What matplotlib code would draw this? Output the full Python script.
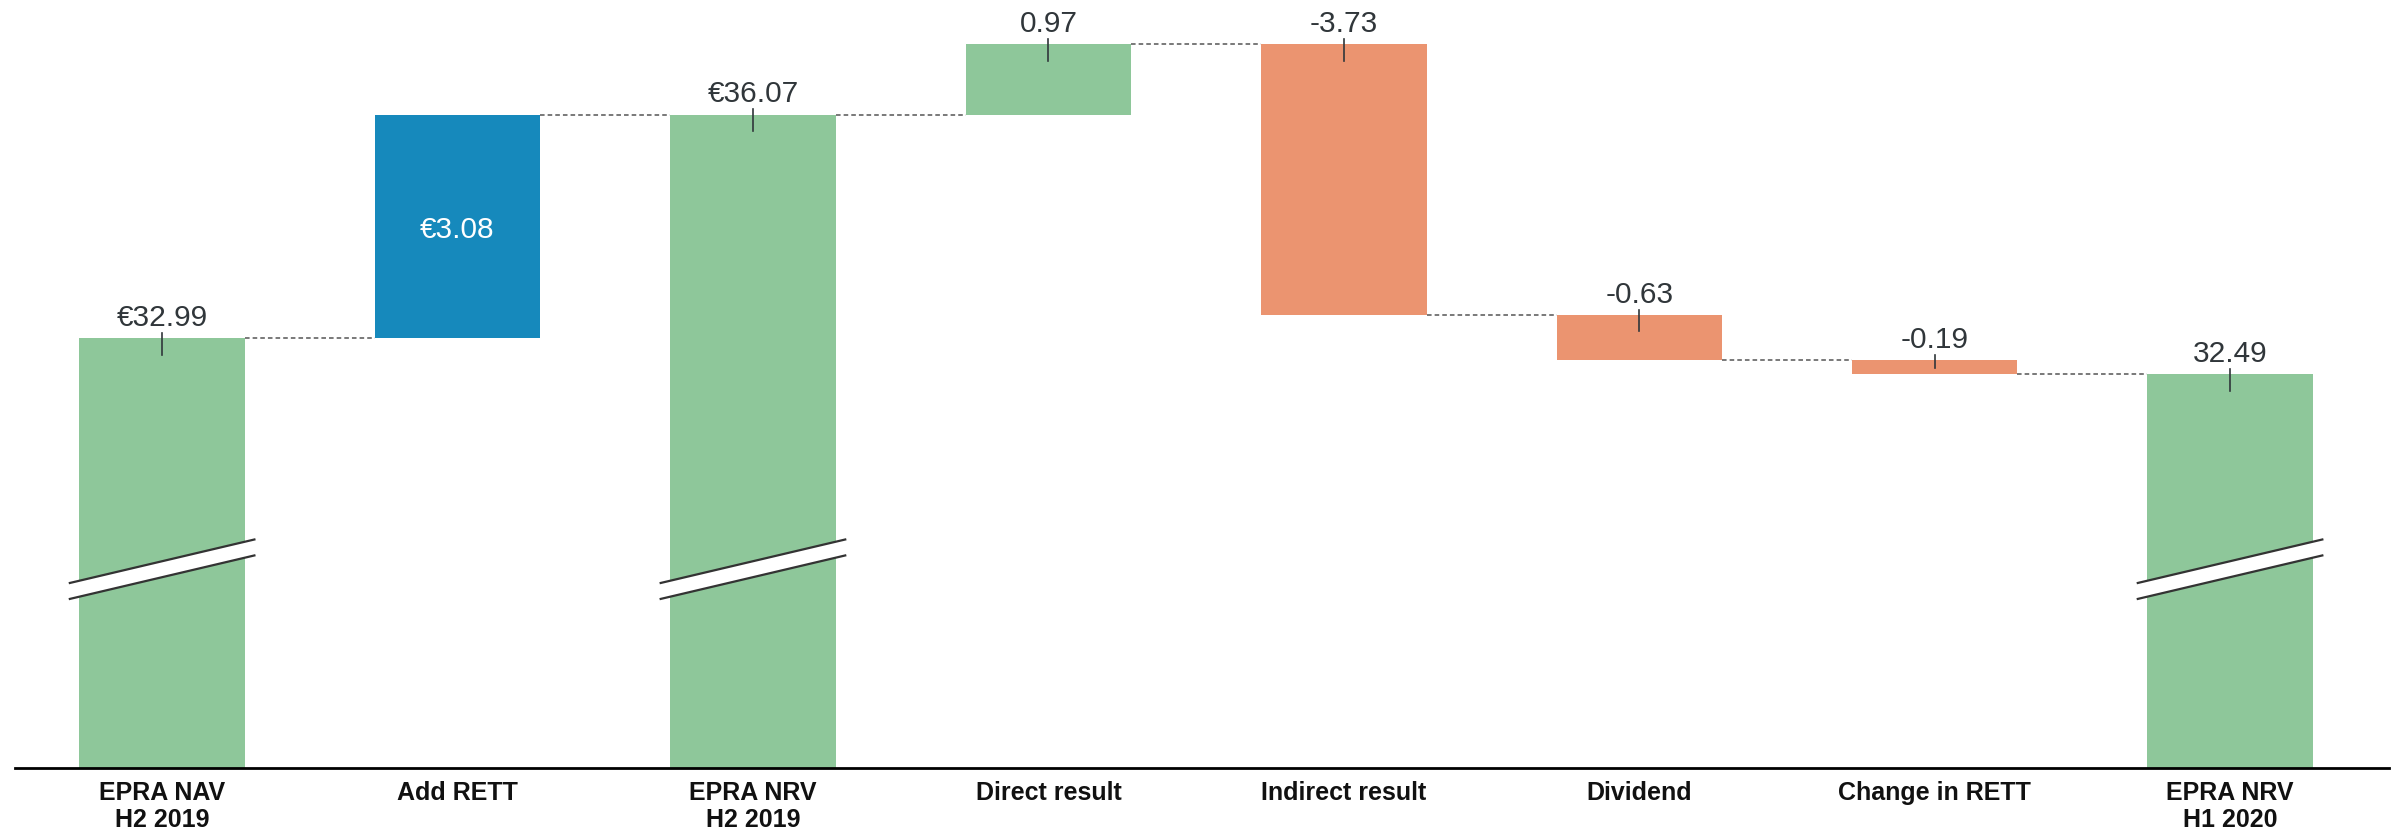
"""
EPRA NRV bridge, H2 2019 to H1 2020 (waterfall with broken value axis)
"""

import matplotlib
matplotlib.use("Agg")
import matplotlib.pyplot as plt
from matplotlib.patches import Polygon

categories = ["EPRA NAV\nH2 2019", "Add RETT", "EPRA NRV\nH2 2019", "Direct result",
              "Indirect result", "Dividend", "Change in RETT", "EPRA NRV\nH1 2020"]
# totals are absolute values, moves are the steps in between
totals = {0: 32.99, 2: 36.07, 7: 32.49}
moves = {1: 3.08, 3: 0.97, 4: -3.73, 5: -0.63, 6: -0.19}
value_labels = ["€32.99", "€3.08", "€36.07", "0.97", "-3.73", "-0.63", "-0.19", "32.49"]

GREEN = "#8EC79A"
ORANGE = "#EB9470"
BLUE = "#1689BC"
TEXT = "#30363A"

fig = plt.figure(figsize=(23.97, 8.32), dpi=100)
ax = fig.add_axes([0.00626, 0.0775, 0.9904, 0.9225])

width = 0.56
level = 0.0
bottoms, tops, levels = [], [], []
for i in range(len(categories)):
    if i in totals:
        lo, hi = 0.0, totals[i]
        color = GREEN
        level = totals[i]
    else:
        d = moves[i]
        lo, hi = sorted([level, level + d])
        if i == 1:
            color = BLUE
        else:
            color = GREEN if d > 0 else ORANGE
        level = level + d
    ax.bar(i, hi - lo, bottom=lo, width=width, color=color, zorder=2)
    bottoms.append(lo)
    tops.append(hi)
    levels.append(level)

# dashed connectors between consecutive bars
for i in range(len(categories) - 1):
    ax.plot([i + width / 2, i + 1 - width / 2], [levels[i], levels[i]],
            color="#555555", lw=1.1, ls=(0, (3, 2)), zorder=1)

# value labels with a small tick at the top edge
for i, lab in enumerate(value_labels):
    top = tops[i]
    if i == 1:
        ax.text(i, (bottoms[i] + tops[i]) / 2 - 0.05, lab, ha="center", va="center",
                color="white", fontsize=21.5, family="Liberation Sans", zorder=4)
        continue
    h = tops[i] - bottoms[i]
    below = min(0.23, 0.55 * h)
    ax.plot([i, i], [top + 0.07, top - below], color=TEXT, lw=1.2, zorder=3)
    ax.text(i, top + 0.085, lab, ha="center", va="bottom", color=TEXT,
            fontsize=21.5, family="Liberation Sans", zorder=4)

# axis break marks on the total bars
brk_y, slope, gap, half = 29.8, 0.96, 0.11, 0.316
for i in totals:
    x0, x1 = i - half, i + half
    y0, y1 = brk_y - half * slope, brk_y + half * slope
    ax.add_patch(Polygon([(x0, y0 - gap), (x1, y1 - gap), (x1, y1 + gap), (x0, y0 + gap)],
                         closed=True, facecolor="white", edgecolor="none", zorder=3))
    for s in (-gap, gap):
        ax.plot([x0, x1], [y0 + s, y1 + s], color="#333333", lw=1.6, zorder=4,
                solid_capstyle="butt")

ax.set_xlim(-0.498, 7.538)
ax.set_ylim(27.065, 37.65)
for side in ("top", "right", "left"):
    ax.spines[side].set_visible(False)
ax.spines["bottom"].set_linewidth(2)
ax.spines["bottom"].set_color("black")
ax.set_yticks([])
ax.set_xticks(range(len(categories)))
ax.set_xticklabels(categories, fontsize=18, fontweight="bold", linespacing=1.15,
                   family="Liberation Sans", color="#111111")
ax.tick_params(axis="x", length=0, pad=10)

fig.savefig("out.png", dpi=100)
